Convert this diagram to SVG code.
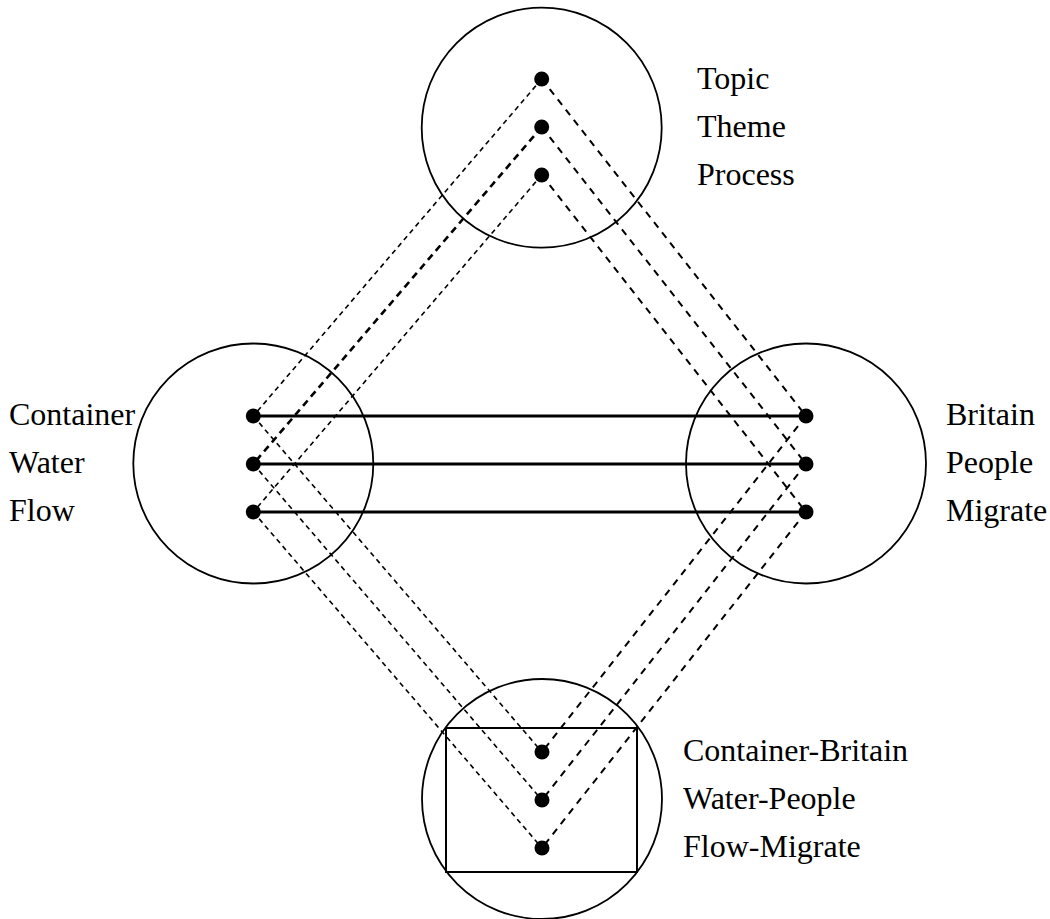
<svg xmlns="http://www.w3.org/2000/svg" width="1050" height="919" viewBox="0 0 1050 919">
<style>
.circ{fill:none;stroke:#000;stroke-width:1.8}
.dot{fill:#000}
.lbl{font-family:"Liberation Serif","Times New Roman",serif;font-size:32px;fill:#000}
.thin{stroke:#000;stroke-width:1.6;stroke-dasharray:5 4;fill:none}
.thick{stroke:#000;stroke-width:2.6;stroke-dasharray:7 5;fill:none}
.med{stroke:#000;stroke-width:2;stroke-dasharray:7 6;fill:none}
.solid{stroke:#000;stroke-width:3;fill:none}
</style>
<rect width="1050" height="919" fill="#fff"/>
<g id="connectors">
<line class="thin" x1="541.7" y1="79" x2="253.3" y2="416"/>
<line class="thick" x1="541.7" y1="127" x2="253.3" y2="464"/>
<line class="thin" x1="541.7" y1="175" x2="253.3" y2="512"/>
<line class="med" x1="541.7" y1="79" x2="806" y2="416"/>
<line class="med" x1="541.7" y1="127" x2="806" y2="464"/>
<line class="med" x1="541.7" y1="175" x2="806" y2="512"/>
<line class="thin" x1="253.3" y1="416" x2="542" y2="752"/>
<line class="thin" x1="253.3" y1="464" x2="542" y2="800"/>
<line class="thin" x1="253.3" y1="512" x2="542" y2="848"/>
<line class="med" x1="806" y1="416" x2="542" y2="752"/>
<line class="med" x1="806" y1="464" x2="542" y2="800"/>
<line class="med" x1="806" y1="512" x2="542" y2="848"/>
<line class="solid" x1="253.3" y1="416" x2="806" y2="416"/>
<line class="solid" x1="253.3" y1="464" x2="806" y2="464"/>
<line class="solid" x1="253.3" y1="512" x2="806" y2="512"/>
</g>
<g id="node-top">
<circle class="circ" cx="541.7" cy="127.7" r="120"/>
<circle class="dot" cx="541.7" cy="79" r="7.5"/>
<circle class="dot" cx="541.7" cy="127" r="7.5"/>
<circle class="dot" cx="541.7" cy="175" r="7.5"/>
<text class="lbl" x="697" y="89">Topic</text>
<text class="lbl" x="697" y="137">Theme</text>
<text class="lbl" x="697" y="185">Process</text>
</g>
<g id="node-left">
<circle class="circ" cx="253.3" cy="463.5" r="120"/>
<circle class="dot" cx="253.3" cy="416" r="7.5"/>
<circle class="dot" cx="253.3" cy="464" r="7.5"/>
<circle class="dot" cx="253.3" cy="512" r="7.5"/>
<text class="lbl" x="9" y="425">Container</text>
<text class="lbl" x="9" y="473">Water</text>
<text class="lbl" x="9" y="521">Flow</text>
</g>
<g id="node-right">
<circle class="circ" cx="806" cy="463.5" r="120"/>
<circle class="dot" cx="806" cy="416" r="7.5"/>
<circle class="dot" cx="806" cy="464" r="7.5"/>
<circle class="dot" cx="806" cy="512" r="7.5"/>
<text class="lbl" x="946" y="425">Britain</text>
<text class="lbl" x="946" y="473">People</text>
<text class="lbl" x="946" y="521">Migrate</text>
</g>
<g id="node-bottom">
<circle class="circ" cx="542" cy="799" r="120"/>
<rect x="446" y="728" width="191" height="144" fill="none" stroke="#000" stroke-width="2"/>
<circle class="dot" cx="542" cy="752" r="7.5"/>
<circle class="dot" cx="542" cy="800" r="7.5"/>
<circle class="dot" cx="542" cy="848" r="7.5"/>
<text class="lbl" x="683" y="761">Container-Britain</text>
<text class="lbl" x="683" y="809">Water-People</text>
<text class="lbl" x="683" y="857">Flow-Migrate</text>
</g>
</svg>
